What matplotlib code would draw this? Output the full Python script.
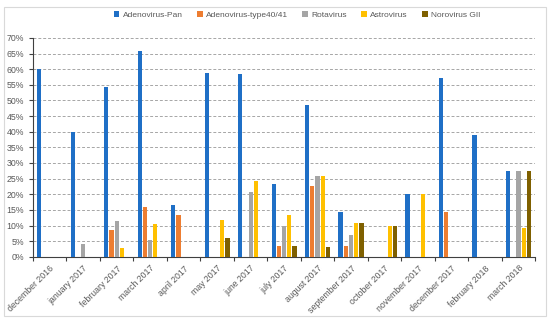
import numpy as np
import matplotlib.pyplot as plt
from matplotlib.patches import Rectangle
from matplotlib.ticker import PercentFormatter, FixedLocator

plt.rcParams['font.family'] = ['Liberation Sans', 'DejaVu Sans']

months = ['december 2016', 'january 2017', 'february 2017', 'march 2017', 'april 2017',
          'may 2017', 'june 2017', 'july 2017', 'august 2017', 'september 2017',
          'october 2017', 'november 2017', 'december 2017', 'february 2018', 'march 2018']

adeno_pan = [60, 40, 54.3, 65.8, 16.7, 58.8, 58.6, 23.3, 48.4, 14.3, 0, 20, 57.1, 38.9, 27.3]
adeno_4041 = [0, 0, 8.6, 15.8, 13.3, 0, 0, 3.3, 22.6, 3.6, 0, 0, 14.3, 0, 0]
rotavirus = [0, 4, 11.4, 5.3, 0, 0, 20.7, 10, 25.8, 7.1, 0, 0, 0, 0, 27.3]
astrovirus = [0, 0, 2.9, 10.5, 0, 11.8, 24.1, 13.3, 25.8, 10.7, 10, 20, 0, 0, 9.1]
norovirus = [0, 0, 0, 0, 0, 5.9, 0, 3.3, 3.2, 10.7, 10, 0, 0, 0, 27.3]

series = [
    ('Adenovirus-Pan', adeno_pan, '#1F6FC6'),
    ('Adenovirus-type40/41', adeno_4041, '#ED7D31'),
    ('Rotavirus', rotavirus, '#A5A5A5'),
    ('Astrovirus', astrovirus, '#FFC000'),
    ('Norovirus GII', norovirus, '#7F6000'),
]

fig = plt.figure(figsize=(5.5, 3.21), dpi=100)
# light frame around the chart, Excel style
fig.patches.append(Rectangle((0.008, 0.016), 0.984, 0.962, transform=fig.transFigure,
                             fill=False, edgecolor='#D9D9D9', linewidth=0.8))
ax = fig.add_axes([0.06, 0.2, 0.913, 0.682])

x = np.arange(len(months))
w = 0.125
step = 0.156
for i, (name, vals, color) in enumerate(series):
    ax.bar(x + (i - 2) * step, vals, width=w, color=color, label=name, zorder=3)

ax.set_xlim(-0.5, len(months) - 0.5)
ax.set_ylim(0, 70)
ax.set_yticks(np.arange(0, 71, 5))
ax.yaxis.set_major_formatter(PercentFormatter(decimals=0))
ax.grid(axis='y', linestyle=(0, (3, 2)), color='#A6A6A6', linewidth=0.7, zorder=0)

ax.set_xticks(x)
ax.set_xticklabels(months, rotation=45, ha='right', rotation_mode='anchor',
                   fontsize=6.3, color='#595959')
ax.tick_params(axis='x', length=0, pad=5)
ax.xaxis.set_minor_locator(FixedLocator(np.arange(-0.5, len(months), 1)))
ax.tick_params(axis='x', which='minor', length=3, color='#404040', width=0.8)
ax.tick_params(axis='y', labelsize=6.3, labelcolor='#595959', length=3, color='#404040', width=0.8)

for s in ['top', 'right']:
    ax.spines[s].set_visible(False)
ax.spines['left'].set_color('#404040')
ax.spines['bottom'].set_color('#404040')

fig.legend(loc='upper center', bbox_to_anchor=(0.54, 0.99), ncol=5, frameon=False,
           fontsize=6.0, handlelength=0.7, handleheight=0.7, columnspacing=1.7,
           handletextpad=0.4, labelcolor='#595959')

fig.savefig('out.png', dpi=100)
plt.close(fig)
